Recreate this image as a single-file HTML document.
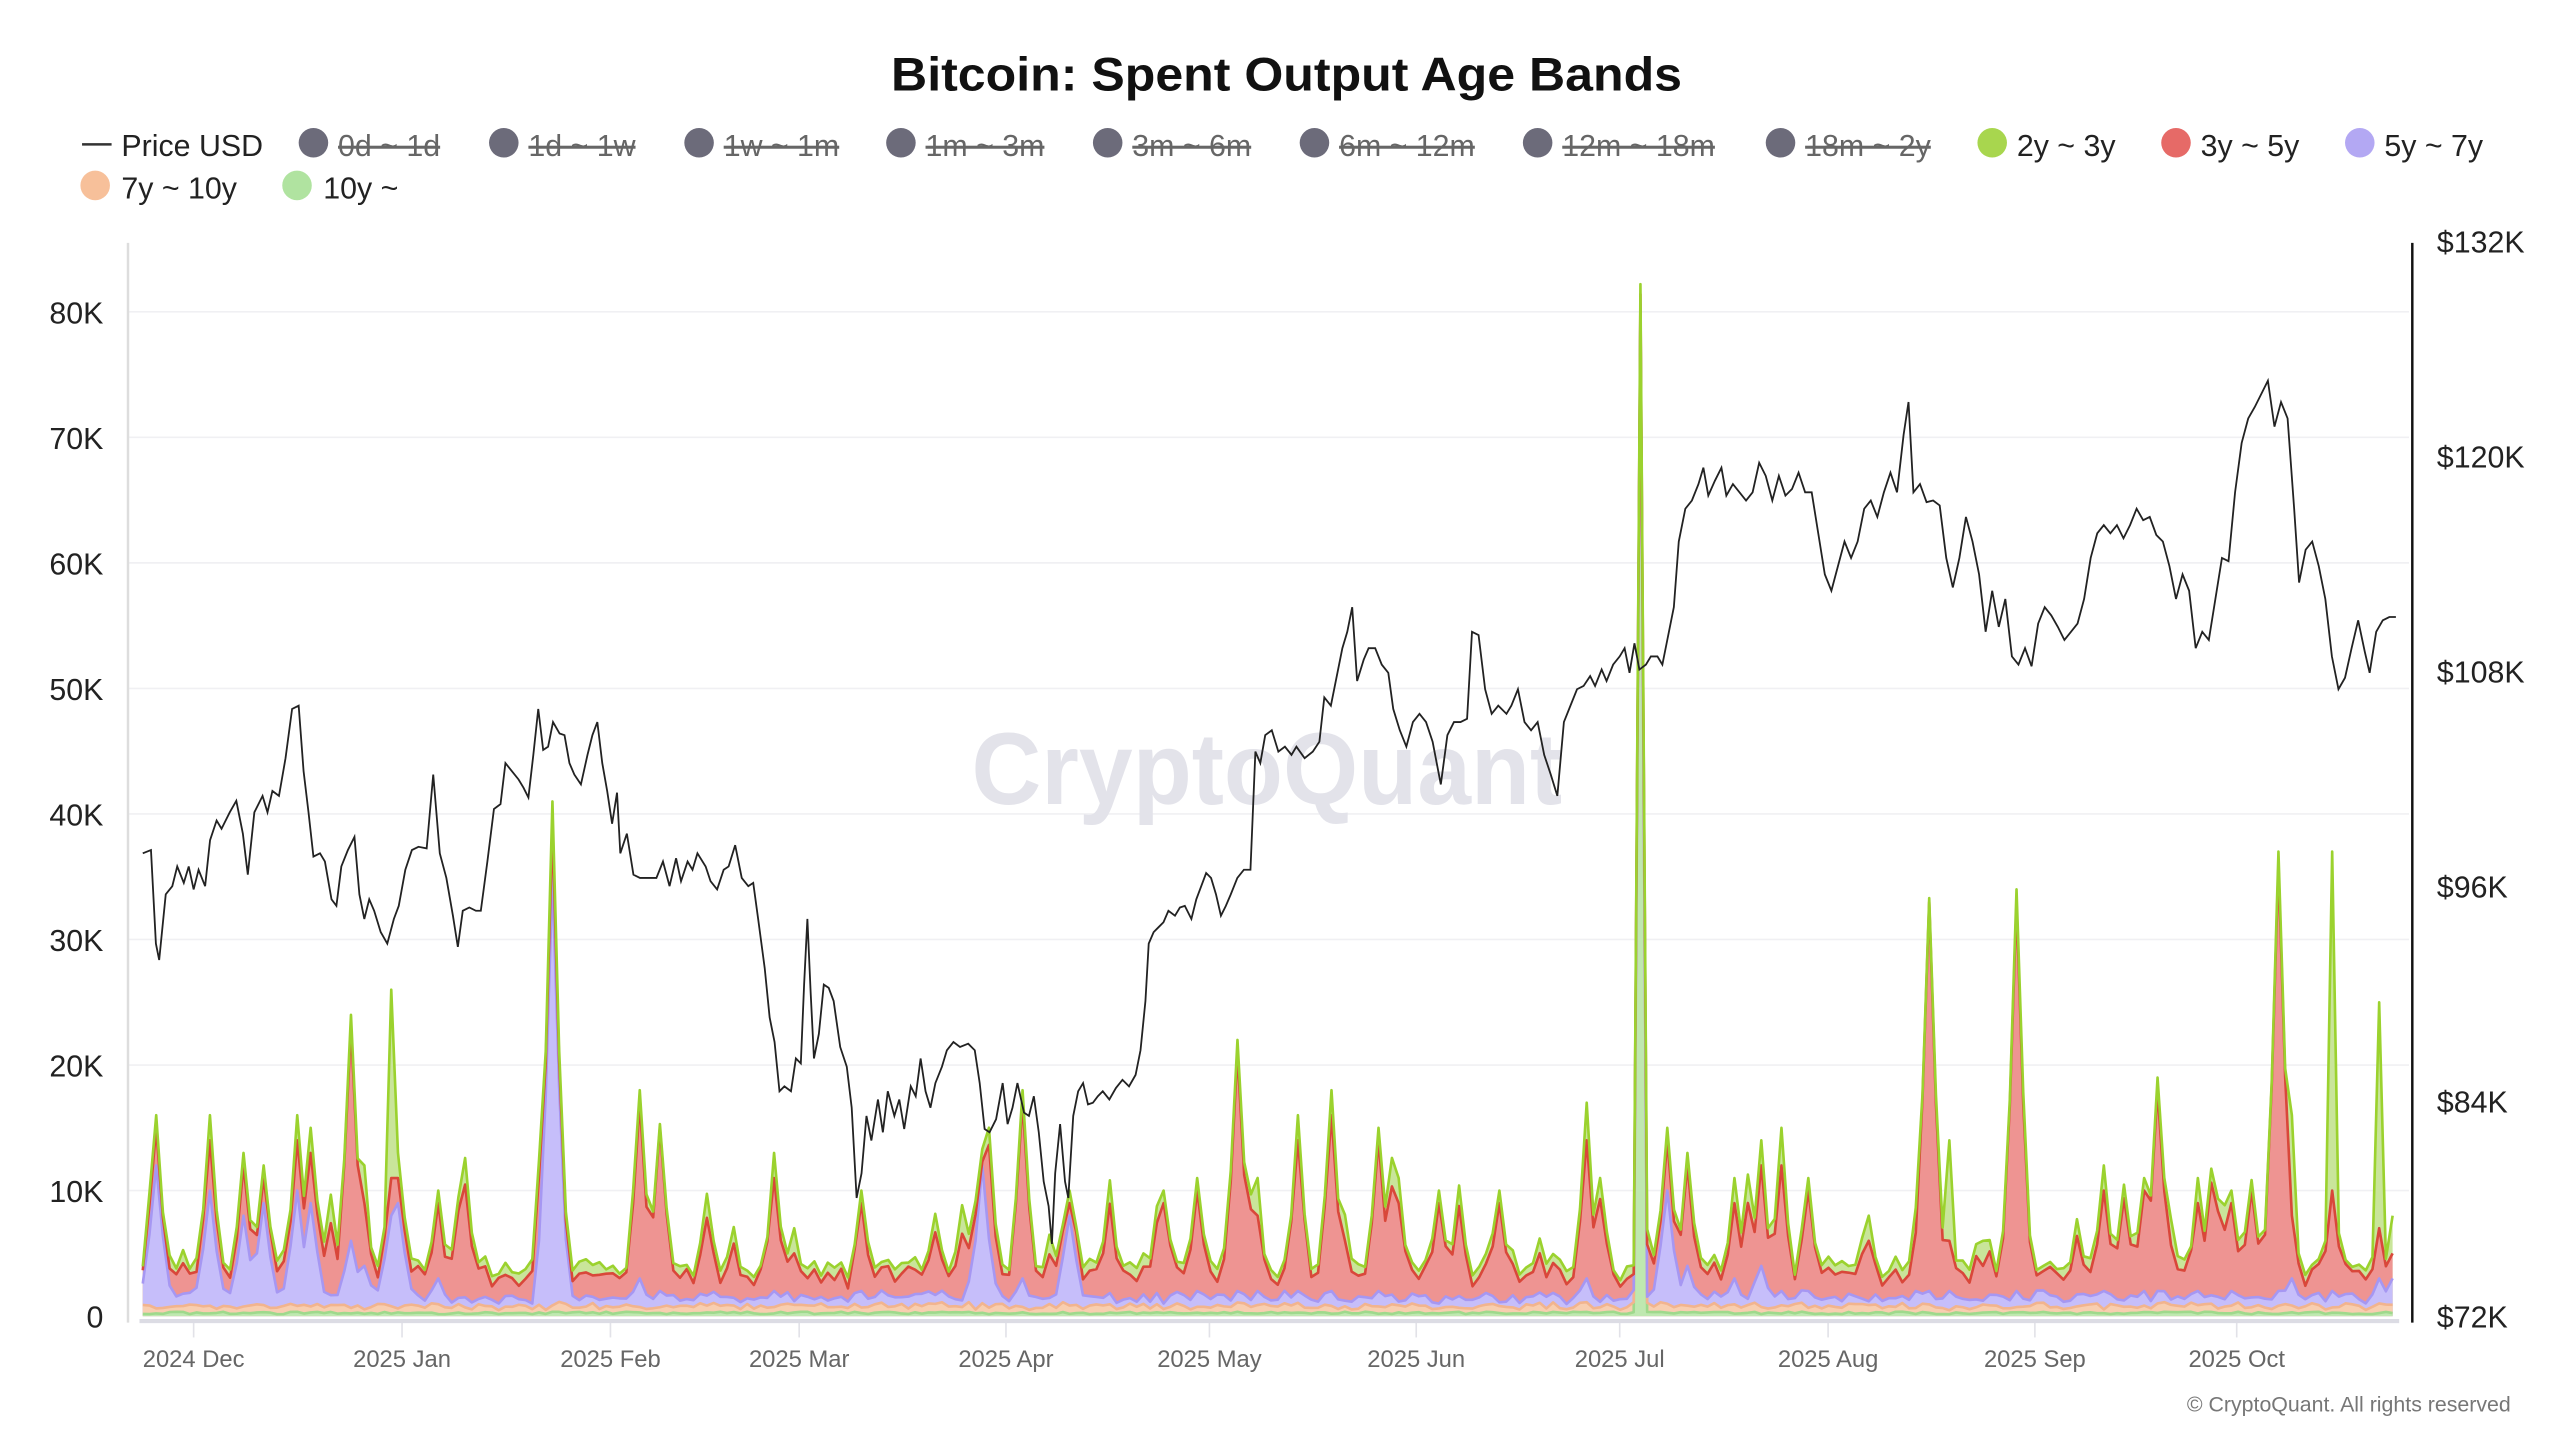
<!DOCTYPE html>
<html><head><meta charset="utf-8">
<style>
html,body{margin:0;padding:0;background:#fff;width:2560px;height:1440px;overflow:hidden}
svg{display:block}
text{font-family:"Liberation Sans",sans-serif}
</style></head>
<body>
<svg id="c" width="2560" height="1440" viewBox="0 0 1560 877.5" xmlns="http://www.w3.org/2000/svg">
<rect width="1560" height="877.5" fill="#fff"/>
<text x="784" y="55" text-anchor="middle" font-size="29" font-weight="bold" fill="#111" textLength="482" lengthAdjust="spacingAndGlyphs">Bitcoin: Spent Output Age Bands</text>
<g id="legend" font-size="18.5"></g>
<g id="grid"></g>
<text x="772" y="490" text-anchor="middle" font-size="62" font-weight="bold" fill="#e3e3ea" textLength="360" lengthAdjust="spacingAndGlyphs">CryptoQuant</text>
<g id="areas"></g>
<g id="axes"></g>
<polyline id="price" fill="none" stroke="#222" stroke-width="1.1" points=""/>
<text x="1530" y="860" text-anchor="end" font-size="13" fill="#777">© CryptoQuant. All rights reserved</text>
</svg>
<script>
(function(){
var NS="http://www.w3.org/2000/svg";
function el(tag,attrs,parent,txt){var e=document.createElementNS(NS,tag);for(var k in attrs)e.setAttribute(k,attrs[k]);if(txt!==undefined)e.textContent=txt;parent.appendChild(e);return e;}
var L=document.getElementById('legend');
el('line',{x1:50,y1:88,x2:68,y2:88,stroke:'#333','stroke-width':1.5},L);
el('text',{x:74,y:95,fill:'#222'},L,'Price USD');
var items=[[191,'0d ~ 1d',0],[307,'1d ~ 1w',0],[426,'1w ~ 1m',0],[549,'1m ~ 3m',0],[675,'3m ~ 6m',0],[801,'6m ~ 12m',0],[937,'12m ~ 18m',0],[1085,'18m ~ 2y',0],[1214,'2y ~ 3y','#a8d64e'],[1326,'3y ~ 5y','#e66a67'],[1438,'5y ~ 7y','#b3a8f3']];
items.forEach(function(it){
 var y=87;
 el('circle',{cx:it[0],cy:y,r:9,fill:it[2]||'#6c6b7a'},L);
 var t=el('text',{x:it[0]+15,y:y+8,fill:it[2]?'#222':'#666'},L,it[1]);
 if(!it[2]){t.setAttribute('text-decoration','line-through');}
});
[[58,'7y ~ 10y','#f7c09a'],[181,'10y ~','#b0e3a0']].forEach(function(it){
 el('circle',{cx:it[0],cy:113,r:9,fill:it[2]},L);
 el('text',{x:it[0]+16,y:121,fill:'#222'},L,it[1]);
});
var G=document.getElementById('grid'),A=document.getElementById('axes');
var y0=802,kpx=7.65;
for(var k=1;k<=8;k++){var yy=y0-k*10*kpx;el('line',{x1:78,y1:yy,x2:1468,y2:yy,stroke:'#f0f0f3','stroke-width':1},G);}
var months=[[118,'2024 Dec'],[245,'2025 Jan'],[372,'2025 Feb'],[487,'2025 Mar'],[613,'2025 Apr'],[737,'2025 May'],[863,'2025 Jun'],[987,'2025 Jul'],[1114,'2025 Aug'],[1240,'2025 Sep'],[1363,'2025 Oct']];
months.forEach(function(m){el('line',{x1:m[0],y1:805,x2:m[0],y2:815,stroke:'#e2e2e8','stroke-width':1},A);
 el('text',{x:m[0],y:833,'text-anchor':'middle','font-size':14.5,fill:'#666'},A,m[1]);});
el('line',{x1:78,y1:148,x2:78,y2:806,stroke:'#ddd','stroke-width':1.5},A);
el('line',{x1:1470,y1:148,x2:1470,y2:806,stroke:'#111','stroke-width':1.5},A);
el('line',{x1:85,y1:805,x2:1462,y2:805,stroke:'#dcdce4','stroke-width':2.5},A);
for(var k=0;k<=8;k++){el('text',{x:63,y:y0-k*10*kpx+7,'text-anchor':'end','font-size':18.5,fill:'#222'},A,k==0?'0':(k*10)+'K');}
['$72K','$84K','$96K','$108K','$120K','$132K'].forEach(function(s,i){el('text',{x:1485,y:802-i*131+7,'font-size':18.5,fill:'#222'},A,s);});
var P="87,520 92,518 95,575 97,585 101,545 105,540 108,528 112,538 115,528 118,542 121,530 125,540 128,512 132,500 135,505 140,495 144,488 148,508 151,533 155,495 160,485 163,495 166,482 170,485 174,462 178,432 182,430 185,470 188,495 191,522 195,520 198,525 202,548 205,552 208,528 212,518 216,510 219,545 222,560 225,548 228,555 232,568 236,575 240,560 243,552 247,530 251,518 255,516 260,517 264,472 268,520 272,535 276,558 279,577 282,555 286,553 290,555 293,555 297,525 301,493 305,490 308,465 312,470 316,475 319,480 322,486 325,460 328,432 331,457 334,455 337,440 341,447 344,448 347,465 350,472 354,478 358,460 361,448 364,440 367,465 370,482 373,502 376,483 378,520 382,508 386,533 390,535 395,535 400,535 404,525 408,540 412,523 415,537 419,525 422,530 425,520 430,528 433,537 437,542 441,530 444,528 448,515 452,535 456,540 459,538 462,560 466,590 469,620 472,635 475,665 478,662 482,665 485,645 488,648 490,600 492,560 494,605 496,645 499,630 502,600 505,602 508,610 512,638 516,650 519,675 522,730 525,715 528,680 531,695 535,670 538,690 541,665 545,680 548,670 551,688 555,662 558,668 561,645 564,665 567,675 570,660 574,650 577,640 581,635 585,638 590,636 594,640 597,660 600,688 603,690 607,682 611,660 614,685 617,675 620,660 624,678 627,680 630,668 633,690 636,720 639,735 641,758 643,715 646,685 649,720 651,730 654,680 657,665 660,660 663,673 666,672 669,668 672,665 676,670 680,663 684,658 688,662 692,655 695,640 698,610 700,575 703,568 706,565 709,562 712,555 716,558 719,553 722,552 726,560 729,548 732,540 735,532 738,535 741,545 744,558 747,552 750,545 754,535 758,530 762,530 765,458 768,465 771,448 775,445 779,458 783,455 787,460 790,455 795,462 800,458 804,452 807,425 811,430 815,410 818,395 821,385 824,370 827,415 831,402 834,395 838,395 842,405 846,410 849,432 853,445 857,455 861,440 865,435 869,440 873,452 878,478 882,448 886,440 890,440 894,438 897,385 901,387 905,420 909,435 913,430 918,435 921,430 925,420 929,440 933,445 937,440 941,460 945,472 949,485 953,440 957,430 961,420 965,418 969,412 972,418 976,408 979,415 983,405 987,400 990,395 993,410 996,392 999,408 1003,405 1006,400 1010,400 1013,405 1016,390 1020,370 1023,330 1027,310 1031,305 1035,295 1038,285 1041,302 1045,293 1049,285 1052,302 1056,295 1060,300 1064,305 1068,300 1072,282 1076,290 1080,305 1084,290 1088,302 1092,298 1096,288 1100,300 1104,300 1108,325 1112,350 1116,360 1120,345 1124,330 1128,340 1132,330 1136,310 1140,305 1144,315 1148,300 1152,288 1156,300 1160,265 1163,245 1166,300 1170,295 1174,306 1178,305 1182,308 1186,340 1190,358 1194,340 1198,315 1202,330 1206,350 1210,385 1214,360 1218,382 1222,365 1226,400 1230,405 1234,395 1238,406 1242,380 1246,370 1250,375 1254,382 1258,390 1262,385 1266,380 1270,365 1274,340 1278,325 1282,320 1286,325 1290,320 1294,328 1298,320 1302,310 1306,317 1310,315 1314,326 1318,330 1322,345 1326,365 1330,350 1334,360 1338,395 1342,385 1346,390 1350,365 1354,340 1358,342 1362,300 1366,270 1370,255 1374,248 1378,240 1382,232 1386,260 1390,245 1394,255 1398,310 1401,355 1405,335 1409,330 1413,345 1417,365 1421,400 1425,420 1429,413 1433,395 1437,378 1441,397 1444,410 1448,385 1452,378 1456,376 1460,376";
document.getElementById('price').setAttribute('points',P);
var seed=12345;function rnd(){seed=(seed*16807)%2147483647;return seed/2147483647;}
var N=336,x0=87,x1=1458,dx=(x1-x0)/(N-1);
var s10=[],s7=[],s5=[],s3=[],s2=[];
for(var i=0;i<N;i++){
 s10.push(0.15+0.2*rnd());
 s7.push(0.3+0.5*rnd());
 s5.push(0.4+0.6*rnd());
 s3.push(1.0+1.5*rnd());
 s2.push(0.3+0.8*rnd());
}
var shape=[0.15,0.5,1,0.5,0.15];
function bump(arr,i,v){for(var k=-2;k<=2;k++){var j=i+k;if(j<0||j>=N)continue;arr[j]=Math.max(arr[j],v*shape[k+2]);}}
// random moderate bumps
for(var i=2;i<N-2;i+=1){ if(rnd()<0.12){ bump(s3,i,3+6*rnd()); bump(s2,i,0.8+1.5*rnd()); } }
var peaks=[[97,16,15,12],[126,16,14,10],[150,13,12,8],[160,12,11,9],[180,16,14,10],[190,15,13,9],[212,24,23,6],[224,12,9,4],[237,26,11,8],[242,13,11,9],[268,10,9,3],[335,41,39,35],[388,18,17,3],[404,15,15,2],[472,13,11,2],[484,7,5,1],[523,10,9,2],[598,13,12,12],[622,18,17,3],[652,10,9,8],[708,10,9,1],[728,11,10,2],[753,22,21,2],[765,11,8,2],[790,16,14,2],[812,18,16,2],[838,15,14,2],[852,11,9,1],[878,10,9,1],[912,10,9,1],[966,17,14,3],[1014,15,14,10],[1030,13,12,4],[1055,11,9,3],[1075,14,12,4],[1085,15,12,2],[1100,11,10,2],[1138,8,6,1],[1166,8,6,2],[1174,33,33,2],[1187,14,6,2],[1210,6,4,1],[1228,34,33,2],[1280,12,10,2],[1305,11,10,2],[1314,19,18,2],[1338,11,9,2],[1358,10,9,2],[1388,37,36,2],[1397,16,8,3],[1421,37,10,2],[1451,25,7,3],[1456,8,5,3]];
peaks.forEach(function(p){
 var i=Math.round((p[0]-x0)/dx); if(i<0||i>=N)return;
 var base=s10[i]+s7[i];
 var v5=Math.max(0.3,p[3]-base);
 var v3=Math.max(0.3,p[2]-base-v5);
 var v2=Math.max(0.3,p[1]-p[2]);
 bump(s5,i,v5); s5[i]=v5;
 bump(s3,i,v3); s3[i]=v3;
 s2[i]=v2;
});
var ij=Math.round((998-x0)/dx); s10[ij]=80; s3[ij]=0.8; s2[ij]=0.8; s5[ij]=0.3; s7[ij]=0.3;
var series=[[s10,'#bfe8b0','#9fd98c'],[s7,'#f8ceb0','#f2b48e'],[s5,'#c6befa','#a697f2'],[s3,'#ee9492','#d9473a'],[s2,'#c9e59a','#9bd22e']];
var cum=[];for(var i=0;i<N;i++)cum.push(0);
var Ar=document.getElementById('areas');
var layers=[];
series.forEach(function(s){
 var hi=[];
 for(var i=0;i<N;i++){hi.push(cum[i]+s[0][i]);}
 cum=hi; layers.push([hi,s[1],s[2]]);
});
for(var l=layers.length-1;l>=0;l--){
 var hi=layers[l][0],pts=[];
 for(var i=0;i<N;i++){pts.push((x0+i*dx).toFixed(2)+','+(y0-hi[i]*kpx).toFixed(2));}
 var d='M'+x0+','+y0+' L'+pts.join(' L')+' L'+(x0+(N-1)*dx).toFixed(2)+','+y0+' Z';
 el('path',{d:d,fill:layers[l][1]},Ar);
}
for(var l=0;l<layers.length;l++){
 var hi=layers[l][0],pts=[];
 for(var i=0;i<N;i++){pts.push((x0+i*dx).toFixed(2)+','+(y0-hi[i]*kpx).toFixed(2));}
 el('polyline',{points:pts.join(' '),fill:'none',stroke:layers[l][2],'stroke-width':1.6,'stroke-linejoin':'round'},Ar);
}
})();
</script>
</body></html>
